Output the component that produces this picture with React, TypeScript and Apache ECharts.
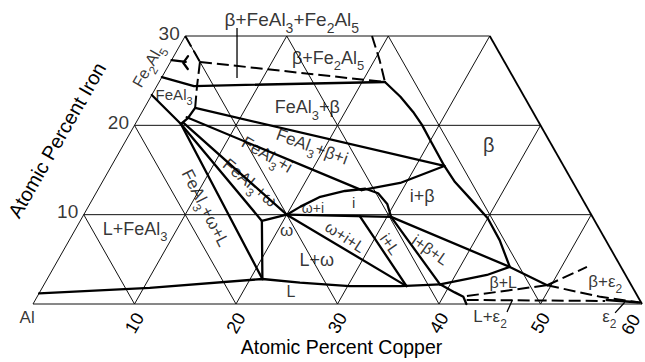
import React, { useEffect, useRef } from 'react';
import * as echarts from 'echarts';

// Compositions are [Cu at.%, Fe at.%]; Al = 100 - Cu - Fe
type P = [number, number];

const CU_TICKS = [10, 20, 30, 40, 50, 60];
const FE_TICKS = [10, 20, 30];
const AL_MIN = 40;

// ---- solid phase boundaries ----
const LIQUIDUS: P[] = [[0, 1.2], [10.6, 1.8], [21.2, 2.8], [25.1, 2.4], [30.2, 2.0], [35.2, 2.0], [39.0, 2.2]];
const LIQUIDUS_END: P[] = [[39.0, 2.2], [40.9, 1.3], [42.0, 0.8], [42.7, 0]];
const OMEGA_LEFT: P[] = [[21.2, 2.8], [17.9, 9.3], [20, 10]];
const I_UPPER: P[] = [[20, 10], [20.9, 10.9], [22.3, 12.0], [24.4, 12.65], [26.3, 12.9], [27.8, 12.4], [29.3, 11.2], [30.4, 9.75]];
const OMEGA_I_TIE: P[] = [[20, 10], [30.4, 9.75]];
const I_BETA_TIE: P[] = [[26.0, 12.75], [29.4, 13.55], [32.8, 15.45]];
const FEAL3_BETA_TIE: P[] = [[5.0, 21.95], [32.8, 15.45]];
const FEAL3_I_TIE: P[] = [[4.7, 20.9], [26.0, 12.75]];
const FEAL3_OMEGA_TIE: P[] = [[4.65, 20.3], [20, 10]];
const FEAL3_OMEGA_L: P[] = [[4.5, 20.15], [17.9, 9.3]];
const FEAL3_L_TIE: P[] = [[4.5, 20.15], [21.2, 2.8]];
const FEAL3_LEFT: P[] = [[0, 23.4], [4.5, 20.15]];
const FEAL3_RIGHT: P[] = [[5.0, 21.95], [4.86, 20.8], [4.5, 20.15]];
const FEAL3_TOP: P[] = [[0, 25.4], [3.66, 24.4], [22.25, 24.85]];
const BETA_BOUNDARY: P[] = [[22.25, 24.85], [24.6, 23.2], [26.7, 21.5], [28.3, 20.05], [30.3, 18.0], [32.8, 15.45], [34.75, 13.65], [37.1, 11.85], [40.0, 9.6], [42.4, 7.15], [44.9, 4.15]];
const I_BETA_L_TOP: P[] = [[30.4, 9.75], [44.9, 4.15]];
const I_L_TIE: P[] = [[30.4, 9.75], [39.0, 2.2]];
const BETA_L_TIE: P[] = [[39.0, 2.2], [41.4, 2.8], [43.1, 3.25], [44.9, 4.15]];
const BETA_RIGHT: P[] = [[44.9, 4.15], [49.6, 2.1]];
const OMEGA_L_TIE: P[] = [[20, 10], [35.8, 2.0]];
const I_L_LEFT: P[] = [[27.3, 9.82], [35.8, 2.0]];
const EPS2_SOLID: P[] = [[56.3, 0.45], [59.7, 0.17]];
const FE2AL5_A: P[] = [[0, 27.3], [1.5, 27.1]];
const FE2AL5_B: P[] = [[1.4, 27.75], [1.3, 27.0], [2.1, 26.3]];

// ---- dashed boundaries ----
const D_CORNER: P[] = [[0, 30], [2.9, 27.1]];
const D_FE2AL5: P[] = [[2.9, 27.1], [22.25, 24.85]];
const D_BETA_TOP: P[] = [[18.4, 30], [20.5, 27.3], [22.25, 24.85]];
const D_FEAL3_RIGHT: P[] = [[2.9, 27.1], [3.96, 24.4], [5.0, 21.95]];
const D_BETA_EPS: P[] = [[49.6, 2.1], [52.5, 4.15]];
const D_BETA_EPS_LOW: P[] = [[49.6, 2.1], [55.5, 0.8], [59.5, 0.2]];
const D_BETA_L_LOW: P[] = [[42.3, 0.9], [49.6, 2.1]];
const D_EPS_LOW: P[] = [[42.5, 0.45], [56.2, 0.34]];

// ---- leader lines ----
const PTR_TOP: P[] = [[4.65, 30.9], [7.45, 25.3]];
const PTR_LEPS: P[] = [[47.0, 0.45], [47.15, -0.9]];
const PTR_EPS: P[] = [[58.2, 0.2], [57.85, -1.0]];

// ---- region labels (text, composition anchor) ----
const LABEL_TEXT = [
  'β+FeAl_3+Fe_2Al_5', 'β+Fe_2Al_5', 'FeAl_3+β', 'Fe_2Al_5', 'FeAl_3', 'β', 'i+β',
  'FeAl_3+β+i', 'FeAl_3+i', 'FeAl_3+ω', 'FeAl_3+ω+L', 'L+FeAl_3', 'ω+i', 'i', 'ω',
  'ω+i+L', 'i+L', 'i+β+L', 'L+ω', 'L', 'β+L', 'β+ε_2', 'L+ε_2', 'ε_2', 'Al',
];
const LABEL_AT: P[] = [
  [9.6, 31.8], [15.3, 27.55], [16.0, 22.05], [-2.0, 26.65], [2.2, 23.4], [36.0, 17.8], [32.3, 12.1],
  [18.7, 17.6], [14.7, 16.7], [14.6, 13.55], [11.6, 10.75], [5.85, 8.4], [22.2, 10.75], [25.9, 11.4], [20.9, 8.2],
  [27.0, 7.5], [31.8, 6.7], [36.1, 6.05], [25.5, 4.9], [24.75, 1.35], [45.1, 2.45], [55.1, 2.55], [45.7, -1.35], [57.5, -1.45], [0.2, -1.55],
];

// ---- styling (kept apart from the data) ----
const LABEL_ROT = [0, 0, 0, 60, 0, 0, 0, -20, -30, -40, -63, 0, 0, 0, 0, -33, -55, -35, 0, 0, 0, 0, 0, 0, 0];
const LABEL_SIZE = [19, 18, 18, 16, 15, 20, 18, 17, 17, 17, 17, 18, 14, 15, 17, 16, 16, 16, 18, 16, 16, 17, 17, 17, 17];
const FONT = '"Liberation Sans", Arial, Helvetica, sans-serif';

const proj = ([cu, fe]: P): [number, number] => [cu + fe / 2, fe];

function toRich(t: string, size: number): string {
  const out: string[] = [];
  const re = /_(\d)/g;
  let last = 0;
  let m: RegExpExecArray | null;
  while ((m = re.exec(t))) {
    if (m.index > last) out.push(`{n${size}|${t.slice(last, m.index)}}`);
    out.push(`{s${size}|${m[1]}}`);
    last = m.index + 2;
  }
  if (last < t.length) out.push(`{n${size}|${t.slice(last)}}`);
  return out.join('');
}

function buildOption(): any {
  const rich: any = {};
  [14, 15, 16, 17, 18, 19, 20].forEach((F) => {
    rich['n' + F] = { fontSize: F, lineHeight: Math.round(F * 1.6), verticalAlign: 'middle', color: '#000', fontFamily: FONT };
    rich['s' + F] = { fontSize: Math.round(F * 0.72), lineHeight: F, verticalAlign: 'bottom', color: '#000', fontFamily: FONT };
  });

  const gridSegs: P[][] = [];
  FE_TICKS.forEach((f) => gridSegs.push([[0, f], [100 - AL_MIN - f, f]]));
  CU_TICKS.filter((c) => c < 100 - AL_MIN).forEach((c) => gridSegs.push([[c, 0], [c, Math.min(30, 100 - AL_MIN - c)]]));
  CU_TICKS.filter((s) => s < 100 - AL_MIN).forEach((s) => {
    const f = Math.min(s, 30);
    gridSegs.push([[s, 0], [s - f, f]]);
  });
  gridSegs.push([[0, 0], [0, 30]], [[0, 0], [100 - AL_MIN, 0]]);
  const rightEdge: P[] = [[100 - AL_MIN, 0], [100 - AL_MIN - 30, 30]];

  const solid = [LIQUIDUS, LIQUIDUS_END, OMEGA_LEFT, I_UPPER, OMEGA_I_TIE, I_BETA_TIE, FEAL3_BETA_TIE, FEAL3_I_TIE,
    FEAL3_OMEGA_TIE, FEAL3_OMEGA_L, FEAL3_L_TIE, FEAL3_LEFT, FEAL3_RIGHT, FEAL3_TOP, BETA_BOUNDARY, I_BETA_L_TOP,
    I_L_TIE, BETA_L_TIE, BETA_RIGHT, OMEGA_L_TIE, I_L_LEFT, EPS2_SOLID, FE2AL5_A, FE2AL5_B];
  const dashed = [D_CORNER, D_FE2AL5, D_BETA_TOP, D_FEAL3_RIGHT, D_BETA_EPS, D_BETA_EPS_LOW, D_BETA_L_LOW, D_EPS_LOW];
  const pointers = [PTR_TOP, PTR_LEPS, PTR_EPS];

  const lineSeries = (pts: P[], style: any, z: number) => ({
    type: 'line', data: pts.map(proj), symbol: 'none', clip: false, silent: true, z,
    lineStyle: style, animation: false,
  });

  const series: any[] = [];
  gridSegs.forEach((s) => series.push(lineSeries(s, { color: '#111', width: 1 }, 1)));
  series.push(lineSeries(rightEdge, { color: '#000', width: 1.8 }, 2));
  solid.forEach((s) => series.push(lineSeries(s, { color: '#000', width: 2.3, cap: 'round', join: 'round' }, 3)));
  dashed.forEach((s) => series.push(lineSeries(s, { color: '#000', width: 2, type: [12, 5] }, 3)));
  pointers.forEach((s) => series.push(lineSeries(s, { color: '#000', width: 1.3 }, 3)));

  // left-edge Fe tick labels
  series.push({
    type: 'scatter', symbolSize: 1, itemStyle: { color: 'rgba(0,0,0,0)' }, clip: false, silent: true, z: 5,
    data: FE_TICKS.map((f) => proj([0, f])),
    label: { show: true, position: 'left', distance: 5, offset: [0, -3], fontSize: 19, color: '#000', fontFamily: FONT,
      formatter: (p: any) => String(FE_TICKS[p.dataIndex]) },
  });

  // region labels
  const richTexts = LABEL_TEXT.map((t, i) => toRich(t, LABEL_SIZE[i]));
  series.push({
    type: 'scatter', symbolSize: 1, itemStyle: { color: 'rgba(0,0,0,0)' }, clip: false, silent: true, z: 6,
    data: LABEL_AT.map((p, i) => ({ value: proj(p), label: { rotate: LABEL_ROT[i] } })),
    label: { show: true, position: 'inside', align: 'center', verticalAlign: 'middle', rich,
      formatter: (p: any) => richTexts[p.dataIndex] },
  });

  const lastCu = CU_TICKS[CU_TICKS.length - 1];
  return {
    animation: false,
    backgroundColor: '#fff',
    textStyle: { fontFamily: FONT },
    grid: { left: 33, top: 36, width: 609, height: 268, containLabel: false, outerBoundsMode: 'none' },
    xAxis: {
      type: 'value', min: 0, max: lastCu, interval: 10,
      axisLine: { show: false }, axisTick: { show: false }, splitLine: { show: false },
      axisLabel: {
        rotate: 60, align: 'center', verticalAlign: 'middle', margin: 19, fontSize: 18, color: '#000', fontFamily: FONT,
        formatter: (v: number) => (v === 0 ? '' : v === lastCu ? `{e|${v}}` : String(v)),
        rich: { e: { fontSize: 18, color: '#000', fontFamily: FONT, padding: [0, 14, 18, 0] } },
      },
      name: 'Atomic Percent Copper', nameLocation: 'middle', nameGap: 33, nameMoveOverlap: false,
      nameTextStyle: { fontSize: 19.5, lineHeight: 20, color: '#000', fontFamily: FONT, padding: [0, 0, 0, 8] },
    },
    yAxis: { type: 'value', min: 0, max: 30, show: false },
    graphic: [
      { type: 'text', x: 57, y: 140, rotation: (60 * Math.PI) / 180,
        style: { text: 'Atomic Percent Iron', fontSize: 20, fontFamily: FONT, fill: '#000', align: 'center', verticalAlign: 'middle' } },
    ],
    series,
  };
}

export default function App() {
  const ref = useRef<HTMLDivElement>(null);
  useEffect(() => {
    const chart = echarts.init(ref.current!, null, { renderer: 'svg' });
    chart.setOption(buildOption());
    return () => chart.dispose();
  }, []);
  return <div ref={ref} style={{ position: 'absolute', left: 0, top: 0, width: 645, height: 362 }} />;
}
